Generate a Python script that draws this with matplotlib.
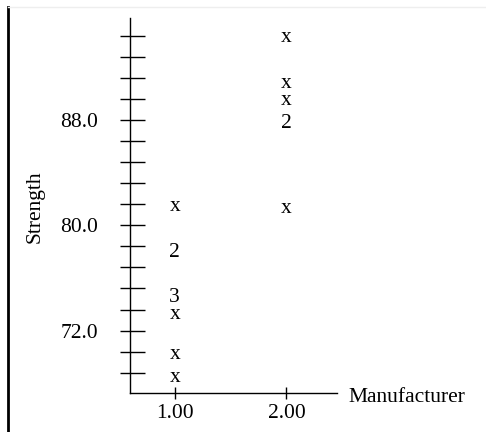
import numpy as np
import matplotlib.pyplot as plt
from matplotlib.lines import Line2D
from matplotlib.ticker import FixedLocator

# strength readings per manufacturer, stacked marks show a count
m1_strength = [81.4, 77.9, 74.5, 73.2, 70.2, 68.4]
m1_count = [1, 2, 3, 1, 1, 1]
m2_strength = [94.3, 90.8, 89.5, 87.7, 81.3]
m2_count = [1, 1, 1, 2, 1]
manufacturers = [1.0, 2.0]
xtick_labels = ["1.00", "2.00"]
ytick_major = [72.0, 80.0, 88.0]

plt.rcParams['font.family'] = ['Liberation Serif', 'DejaVu Serif']
FS = 15.5

W, H = 486, 432
fig = plt.figure(figsize=(W / 100, H / 100), dpi=100)
ax = fig.add_axes([130 / W, 1 - 392.7 / H, 206.7 / W, (392.7 - 18) / H])

# text marks: 'x' for a single point, digit for several
for xm, vals, cnts in [(manufacturers[0], m1_strength, m1_count),
                       (manufacturers[1], m2_strength, m2_count)]:
    for v, c in zip(vals, cnts):
        lab = "x" if c == 1 else str(c)
        ax.text(xm, v, lab, ha='center', va='center', fontsize=FS)

ax.set_xlim(0.6, 2.45)
ax.set_ylim(67.28, 95.75)

for s in ['top', 'right']:
    ax.spines[s].set_visible(False)
for s in ['left', 'bottom']:
    ax.spines[s].set_linewidth(1.0)

# y ticks every 1.6, labels only at 72/80/88
yt = np.round(68.8 + 1.6 * np.arange(17), 1)
ylabs = ["%.1f" % t if t in ytick_major else "" for t in yt]
ax.yaxis.set_major_locator(FixedLocator(yt))
ax.set_yticklabels(ylabs)
ax.yaxis.set_minor_locator(FixedLocator(yt))
ax.yaxis.remove_overlapping_locs = False
ax.tick_params(axis='y', which='major', direction='out', length=7.2, width=1.0,
               pad=15.8, labelsize=FS)
ax.tick_params(axis='y', which='minor', direction='in', length=10.8, width=1.0)

ax.set_xticks(manufacturers)
ax.set_xticklabels(xtick_labels)
ax.tick_params(axis='x', direction='inout', length=8.6, width=1.0, pad=4, labelsize=FS)

ax.annotate("Manufacturer", xy=(1, 0), xycoords='axes fraction', xytext=(8.6, -6.5),
            textcoords='offset points', ha='left', va='baseline', fontsize=FS)
fig.text(35 / W, 1 - 207 / H, "Strength", rotation=90, ha='center', va='center', fontsize=FS)

# frame edges from the original page
fig.add_artist(Line2D([8 / W, 8 / W], [0, 1 - 7 / H], color='black', lw=2.0,
                      transform=fig.transFigure))
fig.add_artist(Line2D([8 / W, 1], [1 - 7 / H, 1 - 7 / H], color='#eeeeee', lw=1.0,
                      transform=fig.transFigure))

fig.savefig("out.png", dpi=100)
